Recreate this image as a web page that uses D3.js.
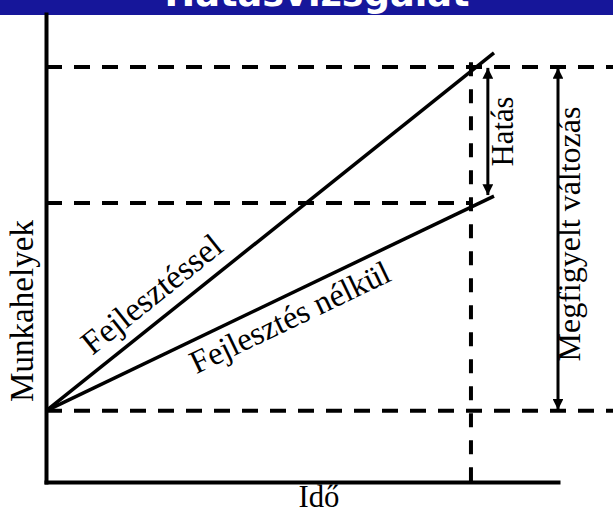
<!DOCTYPE html>
<html>
<head>
<meta charset="utf-8">
<script src="https://cdn.jsdelivr.net/npm/d3@7"></script>
<style>
  body { margin: 0; background: #fff; }
  svg { display: block; }
</style>
</head>
<body>
<svg id="chart"></svg>
<script>
// Hatásvizsgálat - schematic impact chart
const W = 613, H = 513;
const SERIF = "'Liberation Serif', 'Times New Roman', serif";

const title = "Hatásvizsgálat";
const xTitle = "Idő";
const yTitle = "Munkahelyek";

// time: 0 = start, 100 = end of x axis ; jobs: 0 = x axis, 100 = top of y axis
const lineNames = ["Fejlesztéssel", "Fejlesztés nélkül"];
const withDev    = [[0, 15.2], [87.5, 91.7]];
const withoutDev = [[0, 15.2], [87.5, 61.1]];
const levels = [15.2, 59.6, 88.7];       // dashed reference levels
const levelEnds = [null, 83, null];      // null -> runs to the right edge
const obsTime = 83;                      // vertical dashed line
const impactArrow = { t: 86.3, from: 88.7, to: 61.1, text: "Hatás" };
const changeArrow = { t: 100, from: 88.7, to: 15.2, text: "Megfigyelt változás" };

const svg = d3.select("#chart").attr("width", W).attr("height", H);

const x = d3.scaleLinear().domain([0, 100]).range([46, 558]);
const y = d3.scaleLinear().domain([0, 100]).range([482, 14]);

// blue title band
svg.append("rect").attr("x", 0).attr("y", 0).attr("width", W).attr("height", 15)
  .attr("fill", "#16169a");

const fit = (sel, len) => {
  sel.attr("font-size", 100);
  const w = sel.node().getComputedTextLength();
  sel.attr("font-size", 100 * len / w);
  return sel;
};

const label = () => svg.append("text")
  .attr("font-family", SERIF)
  .attr("fill", "#000")
  .attr("text-anchor", "middle");

const tt = svg.append("text")
  .attr("x", 317).attr("y", 6)
  .attr("text-anchor", "middle")
  .attr("font-family", "'DejaVu Sans', Verdana, sans-serif")
  .attr("font-weight", "bold")
  .attr("fill", "#fff")
  .text(title);
fit(tt, 305);

// arrow marker
const defs = svg.append("defs");
defs.append("marker")
  .attr("id", "head")
  .attr("viewBox", "0 0 10 10")
  .attr("refX", 10).attr("refY", 5)
  .attr("markerWidth", 4).attr("markerHeight", 3.6)
  .attr("markerUnits", "strokeWidth")
  .attr("orient", "auto-start-reverse")
  .append("path").attr("d", "M0,0L10,5L0,10Z").attr("fill", "#000");

// dashed levels
svg.selectAll(".level")
  .data(levels)
  .enter().append("line")
  .attr("class", "level")
  .attr("x1", x(0))
  .attr("x2", (d, i) => levelEnds[i] == null ? W : x(levelEnds[i]))
  .attr("y1", d => y(d)).attr("y2", d => y(d))
  .attr("stroke", "#000").attr("stroke-width", 4)
  .attr("stroke-dasharray", "16,12");

// vertical dashed (observation time)
svg.append("line")
  .attr("x1", x(obsTime)).attr("x2", x(obsTime))
  .attr("y1", y(89.7)).attr("y2", y(0))
  .attr("stroke", "#000").attr("stroke-width", 4)
  .attr("stroke-dasharray", "14,13");

// axes without ticks
svg.append("g").attr("transform", `translate(${x(0)},0)`)
  .call(d3.axisLeft(y).ticks(0).tickSizeOuter(0))
  .call(g => g.select(".domain").attr("stroke-width", 4).attr("stroke-linecap", "square"));
svg.append("g").attr("transform", `translate(0,${y(0)})`)
  .call(d3.axisBottom(x).ticks(0).tickSizeOuter(0))
  .call(g => g.select(".domain").attr("stroke-width", 4).attr("stroke-linecap", "square"));

// the two paths
const line = d3.line().x(d => x(d[0])).y(d => y(d[1]));
const series = [withDev, withoutDev];
svg.selectAll(".scen")
  .data(series)
  .enter().append("path")
  .attr("class", "scen")
  .attr("d", line)
  .attr("fill", "none").attr("stroke", "#000").attr("stroke-width", 3.5);

// labels along the lines: [fraction along line, perpendicular offset (+ = above), length]
const lineLabelPos = [[0.271, 14, 170], [0.524, -32, 218]];
series.forEach((s, i) => {
  const x0 = x(s[0][0]), y0 = y(s[0][1]), x1 = x(s[1][0]), y1 = y(s[1][1]);
  const dx = x1 - x0, dy = y1 - y0, len = Math.hypot(dx, dy);
  const ux = dx / len, uy = dy / len;
  const nx = uy, ny = -ux; // normal pointing up-left
  const [f, off, tl] = lineLabelPos[i];
  const px = x0 + dx * f + nx * off, py = y0 + dy * f + ny * off;
  const ang = Math.atan2(dy, dx) * 180 / Math.PI;
  const t = label()
    .attr("transform", `translate(${px},${py}) rotate(${ang})`)
    .text(lineNames[i]);
  fit(t, tl);
});

// arrows
[impactArrow, changeArrow].forEach(a => {
  svg.append("line")
    .attr("x1", x(a.t)).attr("x2", x(a.t))
    .attr("y1", y(a.from) + 1).attr("y2", y(a.to) - 1)
    .attr("stroke", "#000").attr("stroke-width", 3)
    .attr("marker-start", "url(#head)")
    .attr("marker-end", "url(#head)");
});

const hat = label()
  .attr("transform", `translate(${x(impactArrow.t) + 25},${(y(impactArrow.from) + y(impactArrow.to)) / 2}) rotate(-90)`)
  .text(impactArrow.text);
fit(hat, 70);

const meg = label()
  .attr("transform", `translate(${x(changeArrow.t) + 22},234) rotate(-90)`)
  .text(changeArrow.text);
fit(meg, 255);

// axis titles
const yt = label()
  .attr("transform", `translate(33,311) rotate(-90)`)
  .text(yTitle);
fit(yt, 182);

const xt = label()
  .attr("x", 319).attr("y", 507)
  .text(xTitle);
fit(xt, 41);
</script>
</body>
</html>
